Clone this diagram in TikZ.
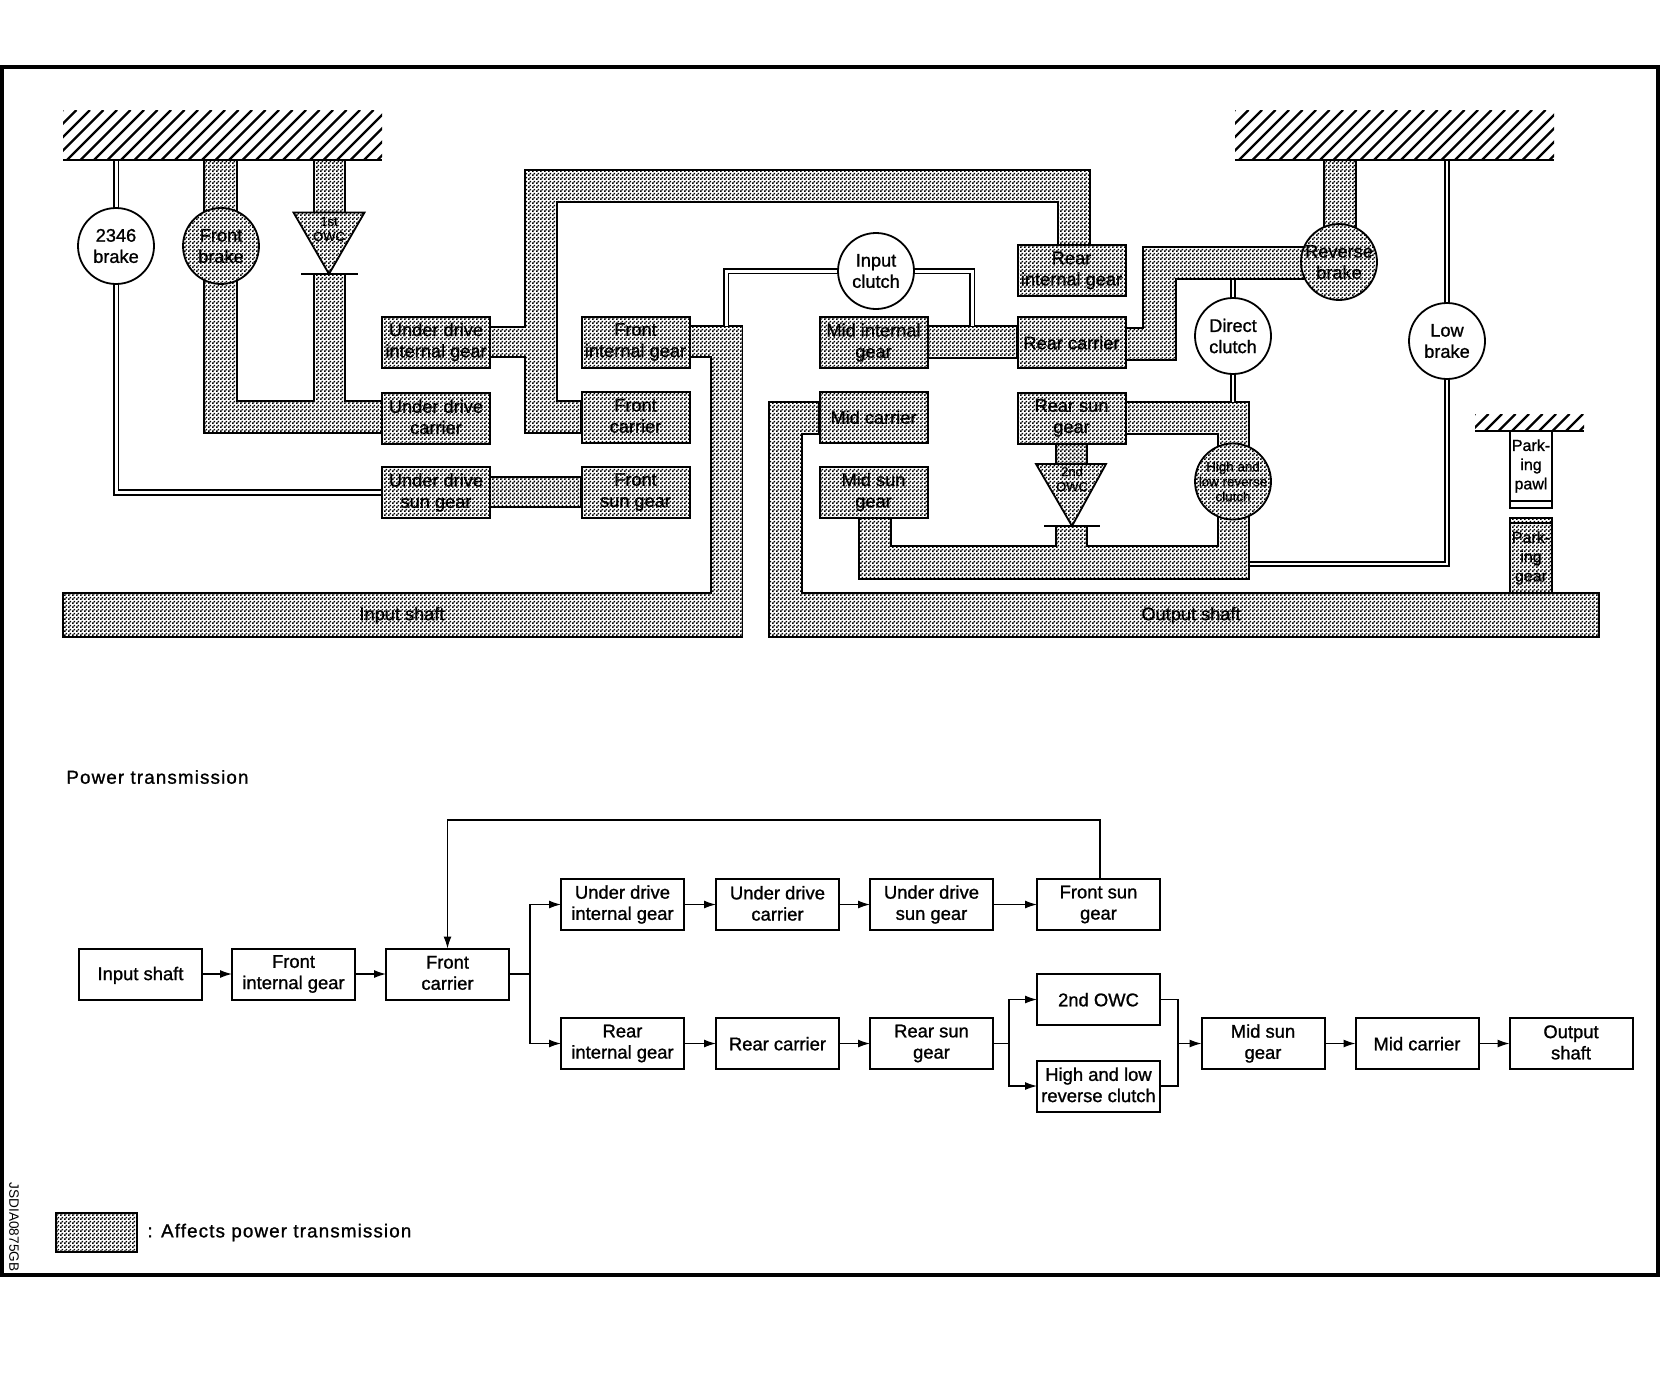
\documentclass[tikz,border=0pt]{standalone}
\usepackage{fontspec}
\setmainfont[FakeBold=1.1]{Liberation Sans}
\newfontfamily\widefont[FakeBold=1.1,LetterSpace=6]{Liberation Sans}
\newfontfamily\thinfont{Liberation Sans}
\usetikzlibrary{arrows.meta,backgrounds,patterns}
\pgfdeclarepatternformonly{dither}{\pgfpointorigin}{\pgfqpoint{2pt}{2pt}}{\pgfqpoint{2pt}{2pt}}{%
  \pgfpathrectangle{\pgfqpoint{0pt}{0pt}}{\pgfqpoint{0.97pt}{0.97pt}}%
  \pgfpathrectangle{\pgfqpoint{1pt}{1pt}}{\pgfqpoint{0.97pt}{0.97pt}}%
  \pgfusepath{fill}}
\tikzset{
  dfill/.style={preaction={fill=white},pattern=dither,pattern color=black},
  band/.style={draw=black,line width=0.9pt,dfill,line join=miter},
  dbl/.style={draw=black,line width=0.8pt,double=white,double distance=1.5pt},
  dblheavy/.style={draw=black,line width=1pt,double=white,double distance=1pt},
  lines2/.style={align=center,execute at begin node={\rule{0pt}{8pt}},execute at end node={\rule[-1.2pt]{0pt}{1.2pt}}},
  gbox/.style={draw=black,line width=1pt,dfill,minimum width=54pt,minimum height=25.5pt,inner sep=0pt,outer sep=0pt,lines2,font=\fontsize{9.1}{10.6}\selectfont},
  sbox/.style={draw=black,line width=1pt,fill=white,minimum width=61.5pt,minimum height=25.5pt,inner sep=0pt,outer sep=0pt,lines2,font=\fontsize{9.2}{10.6}\selectfont},
  wcirc/.style={circle,draw=black,line width=0.9pt,fill=white,minimum size=38pt,inner sep=0pt,outer sep=0pt,align=center,font=\fontsize{9.1}{10.6}\selectfont},
  gcirc/.style={wcirc,dfill},
  lbl/.style={inner sep=0pt,align=center,font=\fontsize{9.1}{10.6}\selectfont},
  smalllbl/.style={inner sep=0pt,align=center,font=\fontsize{6.5}{7.5}\selectfont},
  conn/.style={draw=black,line width=0.6pt,-{Latex[length=6pt,width=4pt]}},
  plainconn/.style={draw=black,line width=0.6pt},
  hatchline/.style={line width=1.2pt},
  groundline/.style={line width=1pt},
  parkbox/.style={draw,line width=1.1pt,minimum width=21pt,inner sep=0pt,outer sep=0pt}
}
\newcommand{\hatchblock}[4]{%
  \begin{scope}
    \clip (#1,#2) rectangle (#3,#4);
    \pgfmathsetmacro{\hh}{#4-#2}%
    \pgfmathsetmacro{\st}{#1+13.5}%
    \pgfmathsetmacro{\en}{#3+\hh}%
    \foreach \i in {#1,\st,...,\en}{\draw[hatchline] (\i,#2) -- ++(-\hh,\hh);}
  \end{scope}
  \draw[groundline] (#1,#4) -- (#3,#4);}
\begin{document}
\begin{tikzpicture}[x=0.5pt,y=-0.5pt]
\useasboundingbox (0,0) rectangle (1676,1376);
\draw[line width=1.8pt] (2,67) rectangle (1658,1275);
% hatched grounds
\hatchblock{63}{110}{382}{160}
\hatchblock{1235}{110}{1554}{160}
\hatchblock{1475}{414}{1584}{431}
\coordinate (gndL) at (63,160);
\coordinate (gndR) at (1235,160);
% nodes upper
\node[gbox] (udi) at (436,342) {Under drive\\internal gear};
\node[gbox] (udc) at (436,418) {Under drive\\carrier};
\node[gbox] (uds) at (436,492.5) {Under drive\\sun gear};
\node[gbox] (fi) at (635.5,342) {Front\\internal gear};
\node[gbox] (fc) at (635.5,417) {Front\\carrier};
\node[gbox] (fs) at (635.5,492) {Front\\sun gear};
\node[gbox] (mi) at (873.5,342.5) {Mid internal\\gear};
\node[gbox] (mc) at (873.5,417) {Mid carrier};
\node[gbox] (ms) at (873.5,492) {Mid sun\\gear};
\node[gbox] (ri) at (1071.5,270.5) {Rear\\internal gear};
\node[gbox] (rc) at (1071.5,342.5) {Rear carrier};
\node[gbox] (rs) at (1071.5,418) {Rear sun\\gear};
\node[wcirc] (b2346) at (116,246) {2346\\brake};
\node[gcirc] (fb) at (221,246) {Front\\brake};
\node[wcirc] (ic) at (876,271) {Input\\clutch};
\node[gcirc] (rb) at (1339,262) {Reverse\\brake};
\node[wcirc] (dc) at (1233,336) {Direct\\clutch};
\node[wcirc] (lb) at (1447,341) {Low\\brake};
\node[gcirc,inner sep=-6pt,font=\fontsize{6.7}{7.5}\selectfont] (hl) at (1233,481.5) {High and\\low reverse\\clutch};
\node[parkbox,fill=white,minimum height=38.5pt] (pawl) at (1531,469.5) {};
\node[parkbox,dfill,minimum height=37.5pt] (pgear) at (1531,555.5) {};
\draw[line width=0.9pt] (1510,501) -- (1552,501);
\draw[line width=0.9pt] (1510,523) -- (1552,523);
\node[lbl,font=\fontsize{8}{9.6}\selectfont] (pawltxt) at (1531,466) {Park-\\ing\\pawl};
\node[lbl,font=\fontsize{8}{9.6}\selectfont] (geartxt) at (1531,558) {Park-\\ing\\gear};
% OWCs
\draw[band] (293.5,212.5) -- (364.5,212.5) -- (329,274) -- cycle;
\draw[line width=1pt] (301,274) -- (358,274);
\node[smalllbl] (owc1) at (329,229) {1st\\OWC};
\draw[band] (1036,464) -- (1106,464) -- (1072,526) -- cycle;
\draw[line width=1pt] (1044,526) -- (1100,526);
\node[smalllbl] (owc2) at (1072,479) {2nd\\OWC};
\node[lbl] (ins) at (402,615.5) {Input shaft};
\node[lbl] (outs) at (1191,615.5) {Output shaft};
% bands and double lines behind
\begin{scope}[on background layer]
\draw[band] (204,160) -- (237,160) -- (237,401) -- (314,401) -- (314,274) -- (345,274) -- (345,401) -- (382,401) -- (382,433) -- (204,433) -- cycle;
\draw[band] (314,160) rectangle (345,212.5);
\draw[band] (525,170) -- (1090,170) -- (1090,245) -- (1058,245) -- (1058,202) -- (557,202) -- (557,401) -- (581,401) -- (581,433) -- (525,433) -- (525,357) -- (490,357) -- (490,327) -- (525,327) -- cycle;
\draw[band] (490,477) rectangle (581,507);
\draw[band] (63,593) -- (711,593) -- (711,357) -- (690,357) -- (690,326) -- (742.5,326) -- (742.5,637) -- (63,637) -- cycle;
\draw[band] (928,326) rectangle (1017,358);
\draw[band] (1126,328) -- (1143,328) -- (1143,247) -- (1310,247) -- (1310,279) -- (1176,279) -- (1176,360) -- (1126,360) -- cycle;
\draw[band] (1324,160) rectangle (1356,230);
\draw[band] (769,402) -- (819,402) -- (819,434) -- (802,434) -- (802,593) -- (1599,593) -- (1599,637) -- (769,637) -- cycle;
\draw[band] (1126,402) -- (1249,402) -- (1249,579) -- (859,579) -- (859,517) -- (891,517) -- (891,546) -- (1056,546) -- (1056,526) -- (1087,526) -- (1087,546) -- (1218,546) -- (1218,434) -- (1126,434) -- cycle;
\draw[band] (1056,444) rectangle (1087,464);
\draw[dbl] (gndL -| b2346) -- (b2346);
\draw[dbl] (b2346) -- (b2346 |- uds) -- (uds);
\draw[dbl] (ic) -- (ic -| 726,0) -- (726,326);
\draw[dbl] (ic) -- (ic -| 972,0) -- (972,326);
\draw[dblheavy] (dc) -- (1233,279.5);
\draw[dblheavy] (dc) -- (1233,401.5);
\draw[dblheavy] (gndR -| lb) -- (lb);
\draw[dblheavy] (lb) -- (1447,563.5) -- (1249.5,563.5);
\end{scope}
% power transmission
\node[anchor=west,inner sep=0pt,font=\widefont\fontsize{9.4}{11}\selectfont] (pt) at (66,777) {Power transmission};
\node[sbox] (a1) at (140.5,974) {Input shaft};
\node[sbox] (a2) at (293.5,974) {Front\\internal gear};
\node[sbox] (a3) at (447.5,974) {Front\\carrier};
\node[sbox] (u1) at (622.5,904.5) {Under drive\\internal gear};
\node[sbox] (u2) at (777.5,904.5) {Under drive\\carrier};
\node[sbox] (u3) at (931.5,904.5) {Under drive\\sun gear};
\node[sbox] (u4) at (1098.5,904.5) {Front sun\\gear};
\node[sbox] (l1) at (622.5,1043.5) {Rear\\internal gear};
\node[sbox] (l2) at (777.5,1043.5) {Rear carrier};
\node[sbox] (l3) at (931.5,1043.5) {Rear sun\\gear};
\node[sbox] (o1) at (1098.5,999.5) {2nd OWC};
\node[sbox] (o2) at (1098.5,1086) {High and low\\reverse clutch};
\node[sbox] (m1) at (1263,1043.5) {Mid sun\\gear};
\node[sbox] (m2) at (1417,1043.5) {Mid carrier};
\node[sbox] (m3) at (1571,1043.5) {Output\\shaft};
\coordinate (split1) at (530,974);
\coordinate (split2) at (1009,1043.5);
\coordinate (merge) at (1178,1043.5);
\coordinate (fbkb) at (1100,879);
\coordinate (fbk) at (1100,820);
\draw[conn] (a1) -- (a2);
\draw[conn] (a2) -- (a3);
\draw[plainconn] (a3) -- (split1);
\draw[conn] (split1) |- (u1);
\draw[conn] (split1) |- (l1);
\draw[conn] (u1) -- (u2);
\draw[conn] (u2) -- (u3);
\draw[conn] (u3) -- (u4);
\draw[conn] (l1) -- (l2);
\draw[conn] (l2) -- (l3);
\draw[plainconn] (l3) -- (split2);
\draw[conn] (split2) |- (o1);
\draw[conn] (split2) |- (o2);
\draw[plainconn] (o1) -| (merge);
\draw[plainconn] (o2) -| (merge);
\draw[conn] (merge) -- (m1);
\draw[conn] (m1) -- (m2);
\draw[conn] (m2) -- (m3);
\draw[conn] (fbkb) -- (fbk) -| (a3.north);
% legend
\node[draw,line width=1.1pt,dfill,minimum width=40.5pt,minimum height=19.5pt,inner sep=0pt] (leg) at (96.5,1232.5) {};
\node[anchor=west,inner sep=0pt,font=\widefont\fontsize{9.4}{11}\selectfont] (legt) at (147,1232.5) {: Affects power transmission};
\node[rotate=-90,inner sep=0pt,font=\thinfont\fontsize{6.8}{7}\selectfont] (jsd) at (14,1227) {JSDIA0875GB};
\end{tikzpicture}
\end{document}
